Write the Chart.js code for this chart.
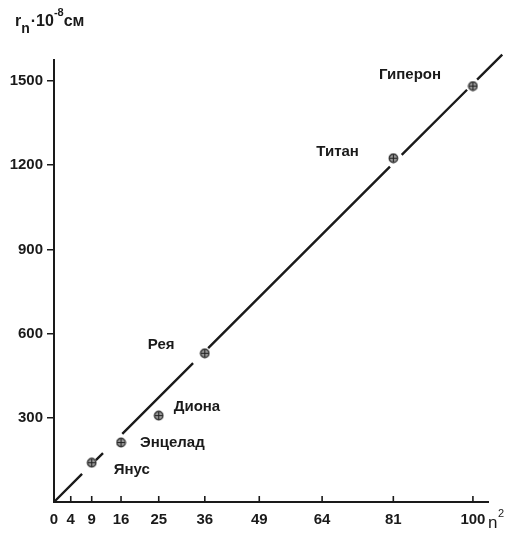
<!DOCTYPE html>
<html>
<head>
<meta charset="utf-8">
<script src="https://cdn.jsdelivr.net/npm/chart.js@4.4.1/dist/chart.umd.min.js"></script>
<style>
  html, body { margin: 0; padding: 0; background: #fff; }
  #wrap { width: 520px; height: 535px; position: relative; }
</style>
</head>
<body>
<div id="wrap"><canvas id="chart" width="520" height="535"></canvas></div>
<script>
// data
const moons = ["Янус", "Энцелад", "Диона", "Рея", "Титан", "Гиперон"];
const nSquared = [9, 16, 25, 36, 81, 100];
const radius = [140, 212, 308, 530, 1225, 1482];

// fitted line, drawn in pieces (gaps around the points)
const fitX = [0, 6.7, 10, 11.7, 16.3, 33.2, 36.8, 80.2, 83, 98.6, 101, 107];
const fitY = [0, 100, 149, 174, 243, 495, 548, 1195, 1237, 1469, 1505, 1594];

const xTicks = [0, 4, 9, 16, 25, 36, 49, 64, 81, 100];
const yTicks = [300, 600, 900, 1200, 1500];

// label placement relative to each point (px)
const labelOffsets = [[22, 7], [19, 0], [15, -9], [-57, -8], [-77, -6], [-94, -11]];

const FONT = "'Liberation Sans', Arial, sans-serif";
const INK = "#1a1a1a";

// build the line: pairs of points, separated by nulls
const linePts = [];
for (let i = 0; i < fitX.length; i += 2) {
  linePts.push({ x: fitX[i], y: fitY[i] });
  linePts.push({ x: fitX[i + 1], y: fitY[i + 1] });
  linePts.push({ x: fitX[i + 1], y: null });
}

// circle with a cross marker
function makeMarker() {
  const c = document.createElement("canvas");
  c.width = 11; c.height = 11;
  const g = c.getContext("2d");
  g.beginPath();
  g.arc(5.5, 5.5, 4.2, 0, Math.PI * 2);
  g.fillStyle = "#9a9a9a";
  g.fill();
  g.lineWidth = 1.4;
  g.strokeStyle = "#333";
  g.stroke();
  g.beginPath();
  g.moveTo(5.5, 2); g.lineTo(5.5, 9);
  g.moveTo(2, 5.5); g.lineTo(9, 5.5);
  g.lineWidth = 1.1;
  g.strokeStyle = "#222";
  g.stroke();
  return c;
}

const decor = {
  id: "decor",
  afterDraw(chart) {
    const ctx = chart.ctx;
    const xs = chart.scales.x, ys = chart.scales.y;
    const area = chart.chartArea;
    ctx.save();
    // x ticks pointing up into the plot
    ctx.strokeStyle = INK;
    ctx.lineWidth = 1.6;
    xTicks.forEach((v) => {
      const px = xs.getPixelForValue(v);
      if (v === 0) return;
      ctx.beginPath();
      ctx.moveTo(px, area.bottom);
      ctx.lineTo(px, area.bottom - 6);
      ctx.stroke();
    });
    // moon labels
    ctx.fillStyle = INK;
    ctx.font = "bold 15px " + FONT;
    ctx.textBaseline = "middle";
    ctx.textAlign = "left";
    moons.forEach((name, i) => {
      const px = xs.getPixelForValue(nSquared[i]);
      const py = ys.getPixelForValue(radius[i]);
      ctx.fillText(name, px + labelOffsets[i][0], py + labelOffsets[i][1]);
    });
    // y axis title: r_n·10^-8 см
    ctx.textBaseline = "alphabetic";
    ctx.font = "bold 16px " + FONT;
    let x = 15;
    ctx.fillText("r", x, 26); x += ctx.measureText("r").width;
    ctx.font = "bold 14px " + FONT;
    ctx.fillText("n", x, 33); x += ctx.measureText("n").width + 1;
    ctx.font = "bold 16px " + FONT;
    ctx.fillText("·10", x, 26); x += ctx.measureText("·10").width;
    ctx.font = "bold 11px " + FONT;
    ctx.fillText("-8", x, 16); x += ctx.measureText("-8").width;
    ctx.font = "bold 16px " + FONT;
    ctx.fillText("см", x, 26);
    // x axis title: n²
    ctx.font = "17px " + FONT;
    ctx.fillText("n", 488, 528);
    ctx.font = "11px " + FONT;
    ctx.fillText("2", 498, 517);
    ctx.restore();
  }
};

const ctx = document.getElementById("chart").getContext("2d");
new Chart(ctx, {
  type: "scatter",
  data: {
    datasets: [
      {
        type: "line",
        data: linePts,
        borderColor: INK,
        borderWidth: 2.4,
        pointRadius: 0,
        spanGaps: false,
        clip: false,
        order: 2
      },
      {
        data: nSquared.map((v, i) => ({ x: v, y: radius[i] })),
        pointStyle: makeMarker(),
        pointRadius: 5,
        order: 1
      }
    ]
  },
  options: {
    responsive: false,
    animation: false,
    layout: { padding: { top: 60, right: 32, left: 0, bottom: 0 } },
    plugins: { legend: { display: false }, tooltip: { enabled: false } },
    scales: {
      x: {
        type: "linear",
        min: 0,
        max: 103.6,
        afterBuildTicks: (s) => { s.ticks = xTicks.map((v) => ({ value: v })); },
        afterFit: (s) => { s.height = 33; },
        grid: { display: false, drawTicks: false },
        border: { color: INK, width: 2 },
        ticks: { color: INK, font: { family: FONT, size: 15, weight: "bold" }, padding: 9, maxRotation: 0, autoSkip: false, callback: (v) => String(v) }
      },
      y: {
        type: "linear",
        min: 0,
        max: 1575,
        afterBuildTicks: (s) => { s.ticks = yTicks.map((v) => ({ value: v })); },
        afterFit: (s) => { s.width = 54; },
        grid: { drawOnChartArea: false, drawTicks: true, tickLength: 7, color: INK, lineWidth: 1.5 },
        border: { color: INK, width: 2 },
        ticks: { color: INK, font: { family: FONT, size: 15, weight: "bold" }, padding: 4, callback: (v) => String(v) }
      }
    }
  },
  plugins: [decor]
});
</script>
</body>
</html>
